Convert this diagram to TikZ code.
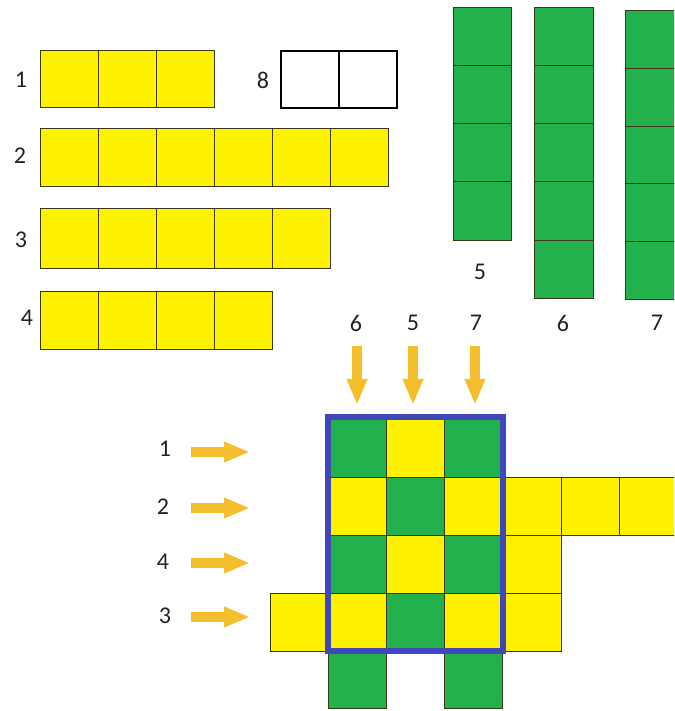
\documentclass[tikz,border=0pt]{standalone}
\usepackage{fontspec}
\setmainfont{Carlito}
\usetikzlibrary{arrows.meta}
\definecolor{yel}{HTML}{FFF200}
\definecolor{grn}{HTML}{22B14C}
\definecolor{edge}{HTML}{3A3A1A}
\definecolor{blu}{HTML}{3F48B8}
\definecolor{arr}{HTML}{F4BF2C}
\definecolor{txt}{HTML}{222222}
\tikzset{
  ycell/.style={fill=yel, draw=edge, line width=1pt},
  gcell/.style={fill=grn, draw=edge, line width=1pt},
  wcell/.style={fill=white, draw=black, line width=1.5pt},
  lbl/.style={text=txt, font=\fontsize{24}{28}\selectfont, inner sep=0pt},
  arrowstyle/.style={draw=arr, line width=10pt, -{Triangle[width=19pt,length=26pt]}}
}
\begin{document}
\begin{tikzpicture}[x=1pt,y=-1pt]
\useasboundingbox (0,0) rectangle (674,711);
\clip (0,0) rectangle (674,711);
% top yellow strips
\foreach \i in {0,1,2} \draw[ycell] (40+58*\i,51) rectangle ++(58,57);
\foreach \i in {0,...,5} \draw[ycell] (40+58*\i,129) rectangle ++(58,58);
\foreach \i in {0,...,4} \draw[ycell] (40+58*\i,209) rectangle ++(58,59);
\foreach \i in {0,...,3} \draw[ycell] (40+58*\i,291) rectangle ++(58,58);
% white strip 8
\foreach \i in {0,1} \draw[wcell] (281+58*\i,51) rectangle ++(58,57);
% green strips
\foreach \j in {0,...,3} \draw[gcell] (453,8+58*\j) rectangle ++(58,58);
\foreach \j in {0,...,4} \draw[gcell] (534,8+58*\j) rectangle ++(59,58);
\foreach \j in {0,...,4} \draw[gcell] (625,11+57.6*\j) rectangle ++(60,57.6);
% labels top
\node[lbl] (l1) at (21,80) {1};
\node[lbl] (l8) at (263,80) {8};
\node[lbl] (l2) at (20,156) {2};
\node[lbl] (l3) at (21,240) {3};
\node[lbl] (l4) at (27,318) {4};
\node[lbl] (g5) at (480,272) {5};
\node[lbl] (g6) at (563,323) {6};
\node[lbl] (g7) at (657,323) {7};
% bottom grid
\foreach \r/\a/\b/\c in {0/grn/yel/grn, 1/yel/grn/yel, 2/grn/yel/grn, 3/yel/grn/yel}{
  \draw[fill=\a, draw=edge, line width=1pt] (328,419+58*\r) rectangle ++(58,58);
  \draw[fill=\b, draw=edge, line width=1pt] (386,419+58*\r) rectangle ++(58,58);
  \draw[fill=\c, draw=edge, line width=1pt] (444,419+58*\r) rectangle ++(58,58);
}
\foreach \i in {0,1,2} \draw[ycell] (503+58*\i,477) rectangle ++(58,58);
\draw[ycell] (503,535) rectangle ++(58,58);
\draw[ycell] (503,593) rectangle ++(58,58);
\draw[ycell] (270,593) rectangle ++(58,58);
\draw[gcell] (328,652) rectangle ++(58,56);
\draw[gcell] (444,652) rectangle ++(58,56);
\draw[blu, line width=6pt] (328,417) rectangle (503,651);
% column labels and arrows
\node[lbl] (c6) at (356,323) {6};
\node[lbl] (c5) at (413,323) {5};
\node[lbl] (c7) at (476,323) {7};
\coordinate (c6s) at (357,346); \coordinate (c6e) at (357,405);
\coordinate (c5s) at (413,346); \coordinate (c5e) at (413,405);
\coordinate (c7s) at (475,346); \coordinate (c7e) at (475,405);
\draw[arrowstyle] (c6s) -- (c6e);
\draw[arrowstyle] (c5s) -- (c5e);
\draw[arrowstyle] (c7s) -- (c7e);
% row labels and arrows
\node[lbl] (r1) at (165,449) {1};
\node[lbl] (r2) at (163,507) {2};
\node[lbl] (r4) at (163,562) {4};
\node[lbl] (r3) at (165,616) {3};
\foreach \n/\y in {1/452, 2/508, 4/563, 3/617}{
  \coordinate (a\n s) at (191,\y);
  \coordinate (a\n e) at (250,\y);
  \draw[arrowstyle] (a\n s) -- (a\n e);
}
\end{tikzpicture}
\end{document}
